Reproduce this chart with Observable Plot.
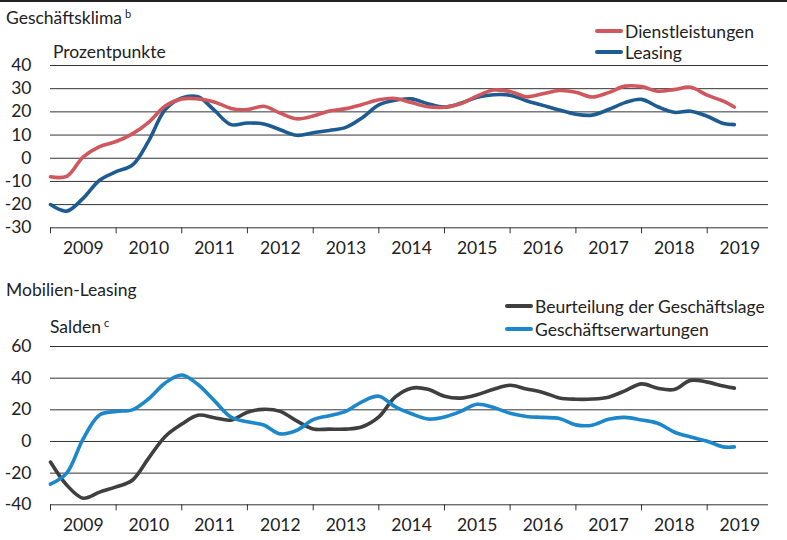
<!DOCTYPE html>
<html><head><meta charset="utf-8">
<script src="https://cdn.jsdelivr.net/npm/d3@7"></script>
<script src="https://cdn.jsdelivr.net/npm/@observablehq/plot@0.6"></script>
<style>
body{margin:0;background:#fff;}
#wrap{position:relative;width:787px;height:540px;font-family:Lato,"Noto Sans",sans-serif;color:#222;overflow:hidden;background:#fff}
.t{position:absolute;font-size:17.5px;white-space:nowrap;line-height:17px;z-index:2}
.t sup{font-size:11px;position:relative;top:1px;margin-left:3px;vertical-align:super;line-height:0}
.pane{position:absolute;left:0;z-index:1}
.leg{position:absolute;display:flex;align-items:center;height:20px;font-size:17.5px;white-space:nowrap;z-index:2}
.leg span.sw{display:inline-block;width:28px;height:4px;border-radius:2px;margin-right:2px}
#rule{position:absolute;left:0;top:0;width:787px;height:2px;background:#222;z-index:3}
</style></head>
<body>
<div id="wrap">
  <div id="rule"></div>
  <div class="t" style="left:6px;top:9px">Geschäftsklima<sup>b</sup></div>
  <div class="t" style="left:53px;top:43px">Prozentpunkte</div>
  <div class="t" style="left:6px;top:281px">Mobilien-Leasing</div>
  <div class="t" style="left:50px;top:318px">Salden<sup>c</sup></div>
  <div id="p1" class="pane" style="top:0px"></div>
  <div id="p2" class="pane" style="top:270px"></div>
  <div id="leg1a" class="leg" style="left:595px;top:21px"></div>
  <div id="leg1b" class="leg" style="left:595px;top:42px"></div>
  <div id="leg2a" class="leg" style="left:505px;top:296px"></div>
  <div id="leg2b" class="leg" style="left:505px;top:319px"></div>
</div>
<script>
// ---- data ----
const dates = [
 "2009-01-01","2009-04-01","2009-07-01","2009-10-01",
 "2010-01-01","2010-04-01","2010-07-01","2010-10-01",
 "2011-01-01","2011-04-01","2011-07-01","2011-10-01",
 "2012-01-01","2012-04-01","2012-07-01","2012-10-01",
 "2013-01-01","2013-04-01","2013-07-01","2013-10-01",
 "2014-01-01","2014-04-01","2014-07-01","2014-10-01",
 "2015-01-01","2015-04-01","2015-07-01","2015-10-01",
 "2016-01-01","2016-04-01","2016-07-01","2016-10-01",
 "2017-01-01","2017-04-01","2017-07-01","2017-10-01",
 "2018-01-01","2018-04-01","2018-07-01","2018-10-01",
 "2019-01-01","2019-04-01","2019-06-01"];

const dienstleistungen = [
 -8, -7.8, 0.5, 5,
 7.2, 10.5, 15.5, 22.5,
 25.6, 25.6, 24.3, 21.5,
 21, 22.4, 19.5, 17,
 18.2, 20.4, 21.4, 23.2,
 25.2, 25.8, 24, 22.2,
 22, 23.5, 26.8, 29.4,
 28.8, 26.5, 27.8, 29.2,
 28.5, 26.4, 28.3, 31.1,
 30.9, 28.9, 29.6, 30.6,
 27.2, 24.6, 22.1];

const leasing = [
 -20, -22.8, -17.3, -9.5,
 -5.8, -3, 7.5, 21,
 26, 26.5, 20.7, 14.5,
 15.2, 14.8, 12.3, 9.9,
 11, 12, 13.3, 17.5,
 23, 25, 25.6, 23.5,
 22.1, 23.7, 26.3, 27.4,
 27.2, 24.8, 22.8, 20.8,
 19, 18.6, 21, 24,
 25.4, 22.2, 19.8, 20.3,
 18.1, 15, 14.5];

const geschaeftslage = [
 -13, -27.5, -35.8, -32,
 -28.7, -24.5, -10.5, 3.2,
 11, 16.6, 15, 13.5,
 18.5, 20.3, 19, 13,
 7.9, 7.8, 7.8, 9.3,
 15.5, 28, 33.7, 33,
 28.6, 27.4, 29.5, 33,
 35.5, 33.2, 31, 27.5,
 26.7, 26.8, 28, 32,
 36.4, 33.6, 32.8, 38.6,
 37.5, 35, 33.7];

const geschaeftserwartungen = [
 -27, -20, 1.5, 16.8,
 19, 20, 27, 37,
 42, 36, 25.8, 15.5,
 12.4, 10.4, 4.8, 7,
 13.8, 16.3, 19, 25.2,
 28.6, 22, 17.5, 14.2,
 15.5, 19, 23.5, 21.5,
 17.8, 15.8, 15.2, 14.5,
 10.5, 10.3, 14, 15.2,
 13.6, 11.5, 6, 2.8,
 0.2, -3.4, -3.4];

const years = [2009,2010,2011,2012,2013,2014,2015,2016,2017,2018,2019];
const yTicks1 = [40,30,20,10,0,-10,-20,-30];
const yTicks2 = [60,40,20,0,-20,-40];

const names1 = ["Dienstleistungen","Leasing"];
const colors1 = ["#d0575b","#1d5b91"];
const names2 = ["Beurteilung der Geschäftslage","Geschäftserwartungen"];
const colors2 = ["#3f3f3f","#1c87cb"];

// ---- build ----
const parse = d3.utcParse("%Y-%m-%d");
const xDomain = [new Date(Date.UTC(2009,0,1)), new Date(Date.UTC(2019,11,8))];
const yearStarts = years.map(y => new Date(Date.UTC(y,0,1)));
const yearMids = years.map(y => new Date(Date.UTC(y,6,2)));

function rows(vals){ return dates.map((d,i)=>({date:parse(d), value:vals[i]})); }

function panel(opts){
  return Plot.plot({
    width: 787, height: opts.height,
    marginLeft: 50, marginRight: 19, marginTop: opts.marginTop, marginBottom: opts.marginBottom,
    x: {type:"utc", domain: xDomain, label: null},
    y: {domain: opts.yDomain, label: null},
    style: {fontFamily: "Lato, 'Noto Sans', sans-serif", fontSize: "17.5px", color: "#222", background: "transparent", overflow: "visible"},
    marks: [
      Plot.gridY(opts.yTicks, {stroke: "#333", strokeOpacity: 1, strokeWidth: 1}),
      Plot.axisY(opts.yTicks, {tickSize: 0, tickPadding: 19, tickFormat: d => String(d), label: null, fontSize: 17.5}),
      Plot.axisX(yearStarts, {tickSize: 6, tickFormat: () => "", label: null, stroke: "#333", anchor: "bottom"}),
      Plot.axisX(yearMids, {tickSize: 0, tickPadding: 14, tickFormat: d3.utcFormat("%Y"), label: null, fontSize: 17.5, anchor: "bottom"}),
      ...opts.series.map((s,i) => Plot.line(rows(s), {x: "date", y: "value", stroke: opts.colors[i], strokeWidth: 3.6, curve: "catmull-rom", strokeLinecap: "round", strokeLinejoin: "round"}))
    ]
  });
}

document.getElementById("p1").append(panel({
  height: 270, marginTop: 65, marginBottom: 42.7,
  yDomain: [-30, 40], yTicks: yTicks1,
  series: [leasing, dienstleistungen], colors: [colors1[1], colors1[0]]
}));
document.getElementById("p2").append(panel({
  height: 270, marginTop: 76, marginBottom: 35.7,
  yDomain: [-40, 60], yTicks: yTicks2,
  series: [geschaeftslage, geschaeftserwartungen], colors: colors2
}));

function legend(id, name, color){
  const el = document.getElementById(id);
  const sw = document.createElement("span"); sw.className = "sw"; sw.style.background = color;
  const tx = document.createElement("span"); tx.textContent = name;
  el.append(sw, tx);
}
legend("leg1a", names1[0], colors1[0]);
legend("leg1b", names1[1], colors1[1]);
legend("leg2a", names2[0], colors2[0]);
legend("leg2b", names2[1], colors2[1]);
</script>
</body></html>
